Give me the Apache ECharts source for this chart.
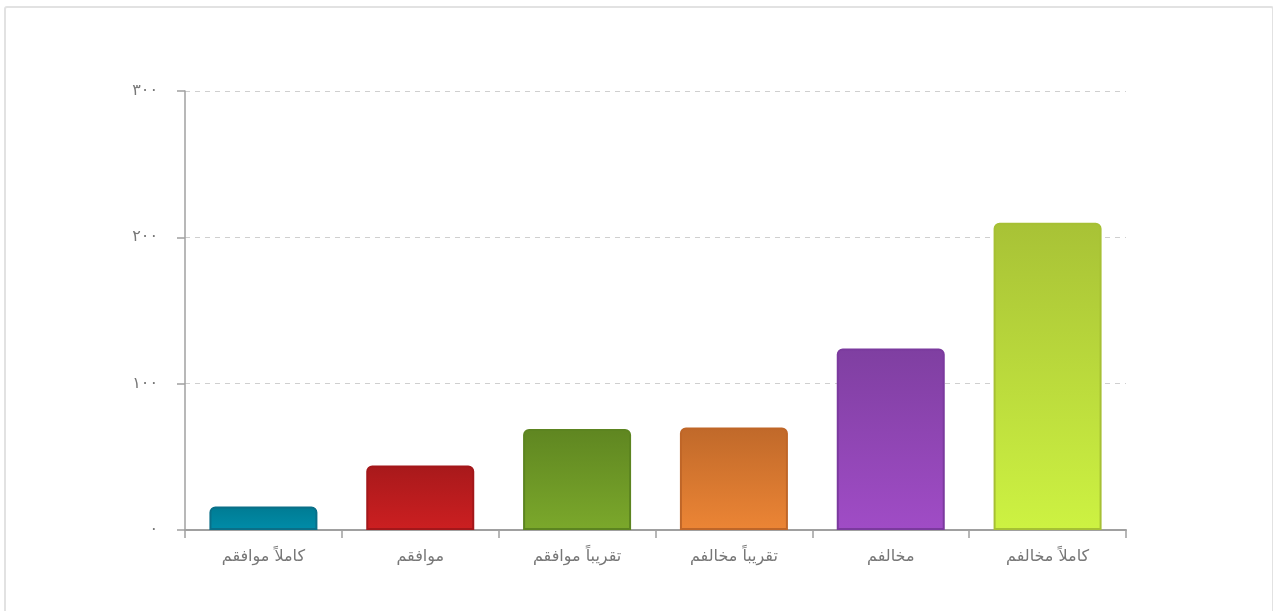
<!DOCTYPE html>
<html>
<head>
<meta charset="utf-8">
<script src="https://cdn.jsdelivr.net/npm/echarts@6/dist/echarts.min.js"></script>
<style>
html,body{margin:0;padding:0;background:#fff;width:1273px;height:611px;overflow:hidden;}
#frame{position:absolute;left:4px;top:6px;width:1266px;height:640px;border:2px solid #e2e2e2;border-radius:3px;pointer-events:none;z-index:2;}
#chart{position:absolute;left:0;top:0;width:1273px;height:611px;}
</style>
</head>
<body>
<div id="chart"></div>
<div id="frame"></div>
<script>
var categories = ['كاملاً موافقم', 'موافقم', 'تقريباً موافقم', 'تقريباً مخالفم', 'مخالفم', 'كاملاً مخالفم'];
var values = [16, 44, 69, 70, 124, 210];
var yTickLabels = {0: '٠', 100: '١٠٠', 200: '٢٠٠', 300: '٣٠٠'};
var topColors = ['#007b93', '#a8191b', '#5f8621', '#c0692a', '#7f3fa1', '#a8c236'];
var bottomColors = ['#008ca8', '#cc1f21', '#7ba82b', '#ec8535', '#a04cc6', '#cdf242'];
var borderColors = ['#0a6f88', '#a3171a', '#5c8420', '#bf6628', '#7b3a9e', '#a6c034'];

var chart = echarts.init(document.getElementById('chart'));
var data = values.map(function (v, i) {
  return {
    value: v,
    itemStyle: {
      color: new echarts.graphic.LinearGradient(0, 0, 0, 1, [
        {offset: 0, color: topColors[i]},
        {offset: 1, color: bottomColors[i]}
      ]),
      borderColor: borderColors[i],
      borderWidth: 2,
      borderRadius: [5, 5, 0, 0]
    }
  };
});
chart.setOption({
  animation: false,
  textStyle: {fontFamily: '"DejaVu Sans", "Noto Sans", sans-serif'},
  grid: {left: 185, right: 147, top: 91, bottom: 81, containLabel: false},
  xAxis: {
    type: 'category',
    data: categories,
    axisLine: {lineStyle: {color: '#a0a0a0', width: 2}},
    axisTick: {show: true, length: 8, lineStyle: {color: '#a0a0a0', width: 1.5}},
    axisLabel: {color: '#777', fontSize: 16, margin: 19}
  },
  yAxis: {
    type: 'value',
    min: 0, max: 300, interval: 100,
    axisLine: {show: true, lineStyle: {color: '#a0a0a0', width: 1.5}},
    axisTick: {show: true, length: 8, lineStyle: {color: '#a0a0a0', width: 1.5}},
    axisLabel: {color: '#777', fontSize: 16, margin: 27, formatter: function (v) { return yTickLabels[v]; }},
    splitLine: {show: true, lineStyle: {color: '#cfcfcf', type: [5, 5], width: 1}}
  },
  series: [{
    type: 'bar',
    data: data,
    barWidth: 108
  }]
});
</script>
</body>
</html>
